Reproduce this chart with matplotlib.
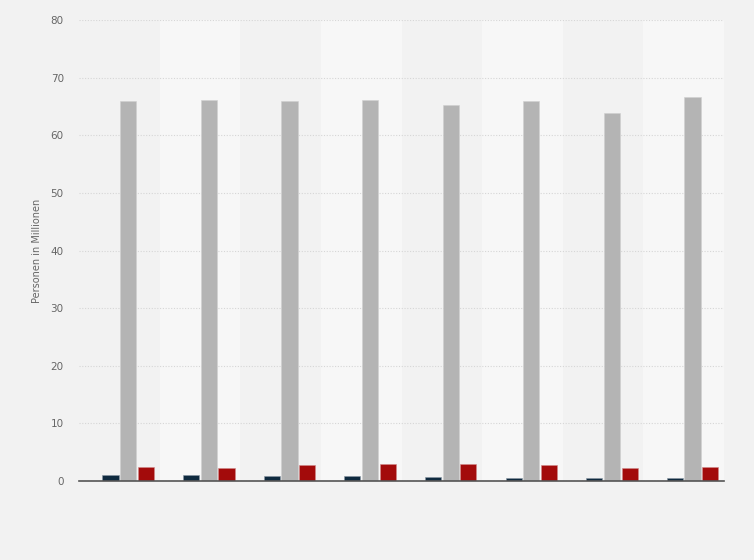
import matplotlib
matplotlib.use("Agg")
import matplotlib.pyplot as plt
import numpy as np

# values (Personen in Millionen), 8 unlabeled groups
navy_vals = [1.1, 1.1, 0.87, 0.87, 0.77, 0.6, 0.6, 0.6]
gray_vals = [66.0, 66.2, 66.0, 66.2, 65.2, 65.9, 63.8, 66.7]
red_vals = [2.5, 2.33, 2.7, 2.9, 2.9, 2.7, 2.33, 2.5]

bg = "#f2f2f2"
fig = plt.figure(figsize=(7.54, 5.6), dpi=100, facecolor=bg)
ax = fig.add_axes([0.1048, 0.1411, 0.8554, 0.8229])
ax.set_facecolor(bg)

n = len(gray_vals)
x = np.arange(n)
width = 0.2
pitch = 0.22

# alternating column bands
for i in range(n):
    if i % 2 == 1:
        ax.axvspan(i - 0.5, i + 0.5, color="#f7f7f7", zorder=0, lw=0)

# four slots per group, the first one is empty in the reference
ax.bar(x - 0.5 * pitch, navy_vals, width, color="#0f2a3f", edgecolor="#8a97a3", linewidth=0.4, zorder=3)
ax.bar(x + 0.5 * pitch, gray_vals, width, color="#b4b4b4", edgecolor="#d0d0d0", linewidth=0.4, zorder=3)
ax.bar(x + 1.5 * pitch, red_vals, width, color="#a30b0b", edgecolor="#d08a8a", linewidth=0.4, zorder=3)

ax.set_xlim(-0.5, n - 0.5)
ax.set_ylim(0, 80)
ax.set_yticks(range(0, 81, 10))
ax.set_xticks([])
ax.yaxis.grid(True, color="#d6d6d6", linestyle=(0, (1, 1.5)), linewidth=0.8, zorder=1)
ax.set_axisbelow(True)

for s in ["top", "right", "left"]:
    ax.spines[s].set_visible(False)
ax.spines["bottom"].set_color("#555555")
ax.spines["bottom"].set_linewidth(1.2)
ax.spines["bottom"].set_zorder(4)

ax.tick_params(axis="y", length=0, pad=11, labelsize=7.5, labelcolor="#666666")
ax.set_ylabel("Personen in Millionen", fontsize=7, color="#666666", labelpad=6)

fig.savefig("out.png", dpi=100, facecolor=bg)
